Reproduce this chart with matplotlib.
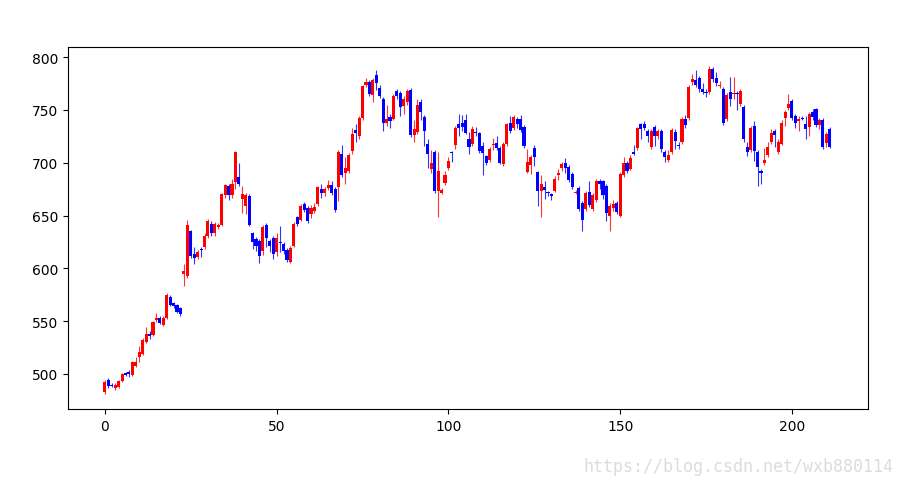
import matplotlib
matplotlib.use('Agg')
import matplotlib.pyplot as plt
import numpy as np

# daily prices (red = up, blue = down)
opens = [483, 494, 490, 487, 488, 493, 501, 502, 499, 508, 516, 519, 530, 538, 537, 551, 553, 546, 553, 573,
         567, 565, 562, 595, 593, 635, 614, 611, 618, 620, 631, 642, 633, 639, 641, 669, 678, 669, 682, 686,
         666, 659, 668, 633, 628, 626, 616, 641, 626, 629, 615, 625, 623, 617, 606, 621, 649, 646, 661, 657,
         651, 654, 661, 675, 671, 676, 679, 675, 677, 708, 690, 692, 711, 731, 725, 742, 774, 776, 764, 783,
         771, 760, 738, 743, 741, 768, 766, 754, 757, 769, 726, 729, 757, 743, 718, 694, 710, 673, 671, 681,
         695, 710, 717, 737, 738, 740, 722, 718, 729, 728, 716, 706, 703, 717, 719, 714, 699, 718, 738, 733,
         741, 741, 734, 691, 698, 714, 691, 673, 677, 672, 670, 673, 688, 695, 700, 696, 689, 671, 676, 662,
         656, 672, 656, 665, 683, 683, 678, 650, 657, 662, 650, 688, 700, 694, 710, 714, 737, 737, 730, 715,
         734, 725, 730, 710, 703, 710, 729, 717, 720, 741, 742, 776, 778, 780, 770, 767, 767, 789, 780, 773,
         770, 741, 767, 765, 766, 756, 753, 715, 712, 735, 710, 692, 700, 707, 720, 730, 710, 718, 742, 752,
         758, 744, 739, 742, 737, 734, 748, 751, 736, 740, 719, 732]
closes = [492, 489, 489, 490, 493, 500, 499, 500, 511, 511, 521, 532, 538, 536, 549, 553, 548, 553, 575, 565,
          564, 559, 557, 597, 641, 612, 610, 615, 617, 631, 645, 633, 642, 641, 670, 679, 669, 680, 710, 680,
          670, 669, 641, 625, 621, 612, 639, 629, 621, 614, 629, 624, 616, 608, 619, 642, 642, 659, 655, 645,
          657, 658, 677, 671, 675, 679, 671, 655, 710, 688, 695, 707, 727, 728, 742, 773, 776, 765, 778, 775,
          763, 738, 741, 739, 763, 763, 753, 760, 768, 726, 732, 755, 748, 730, 708, 700, 673, 692, 674, 688,
          702, 709, 733, 733, 734, 728, 715, 732, 728, 711, 709, 700, 713, 718, 714, 700, 718, 737, 730, 743,
          737, 731, 716, 701, 705, 705, 673, 680, 674, 671, 668, 685, 690, 699, 695, 684, 677, 672, 656, 646,
          671, 660, 669, 683, 680, 669, 652, 659, 661, 653, 689, 700, 692, 704, 708, 733, 732, 733, 725, 730,
          725, 730, 713, 705, 707, 731, 721, 716, 741, 736, 772, 779, 774, 770, 767, 766, 789, 779, 775, 774,
          738, 764, 760, 766, 765, 768, 722, 710, 733, 711, 696, 690, 703, 715, 728, 726, 720, 738, 748, 756,
          742, 738, 741, 741, 732, 746, 743, 736, 740, 715, 727, 715]
highs = [494, 496, 491, 491, 494, 501, 502, 504, 512, 516, 526, 534, 544, 541, 550, 558, 555, 555, 577, 575,
         568, 566, 563, 604, 646, 636, 620, 617, 620, 633, 647, 645, 644, 643, 671, 680, 680, 685, 711, 700,
         678, 671, 670, 634, 630, 628, 641, 643, 628, 631, 633, 640, 625, 619, 621, 644, 650, 661, 663, 659,
         660, 662, 678, 680, 677, 684, 683, 677, 712, 717, 705, 709, 733, 737, 744, 774, 780, 778, 780, 788,
         774, 762, 755, 746, 765, 770, 768, 763, 770, 771, 740, 760, 760, 745, 722, 712, 712, 710, 676, 692,
         705, 711, 735, 746, 745, 746, 729, 735, 734, 729, 720, 707, 715, 723, 725, 716, 720, 738, 744, 745,
         743, 745, 736, 713, 707, 717, 692, 688, 683, 673, 671, 687, 694, 701, 704, 698, 691, 674, 678, 664,
         673, 683, 671, 685, 685, 684, 680, 662, 665, 664, 691, 705, 702, 707, 717, 734, 738, 739, 732, 732,
         736, 732, 732, 712, 712, 733, 732, 720, 743, 745, 774, 784, 788, 782, 775, 770, 792, 791, 786, 777,
         772, 766, 781, 781, 768, 770, 755, 720, 735, 739, 712, 694, 714, 720, 732, 732, 722, 740, 750, 765,
         760, 746, 744, 744, 744, 748, 751, 752, 742, 742, 729, 734]
lows = [481, 487, 488, 485, 487, 492, 498, 497, 498, 507, 511, 518, 529, 533, 536, 549, 547, 545, 552, 564,
        562, 558, 555, 583, 591, 610, 604, 609, 611, 618, 629, 631, 631, 637, 640, 667, 665, 667, 675, 678,
        652, 651, 640, 618, 616, 605, 613, 620, 615, 609, 612, 615, 614, 606, 605, 620, 640, 645, 653, 643,
        648, 652, 659, 667, 668, 674, 669, 653, 664, 686, 680, 690, 708, 720, 722, 740, 772, 763, 757, 769,
        761, 730, 735, 733, 740, 760, 744, 746, 755, 724, 720, 727, 740, 716, 695, 690, 671, 649, 670, 679,
        693, 701, 713, 725, 730, 727, 708, 716, 725, 709, 688, 698, 701, 712, 712, 699, 697, 716, 728, 731,
        733, 729, 714, 690, 689, 697, 659, 649, 666, 668, 665, 672, 684, 692, 690, 682, 675, 670, 654, 635,
        654, 658, 654, 663, 675, 666, 645, 635, 654, 651, 649, 686, 690, 693, 707, 712, 722, 731, 720, 713,
        716, 722, 710, 701, 701, 708, 713, 713, 718, 733, 740, 774, 772, 767, 765, 762, 765, 776, 773, 771,
        736, 739, 754, 760, 750, 754, 720, 706, 710, 702, 678, 680, 698, 705, 718, 715, 708, 717, 735, 750,
        740, 733, 730, 740, 722, 725, 740, 734, 732, 713, 715, 714]

opens = np.array(opens)
closes = np.array(closes)
highs = np.array(highs)
lows = np.array(lows)
x = np.arange(len(opens))
colors = np.where(closes >= opens, 'r', 'b')

fig = plt.figure(figsize=(9.04, 4.85), dpi=100)
ax = fig.add_axes([0.075, 0.155, 0.885, 0.746])

# wicks first, bodies on top
ax.vlines(x, lows, highs, colors=colors, linewidth=0.8, alpha=0.8)
ax.bar(x, np.abs(closes - opens), width=0.9, bottom=np.minimum(opens, closes),
       color=colors, linewidth=0)

ax.set_xlim(-10.8, 222.1)
ax.set_ylim(467, 809.5)
ax.set_xticks([0, 50, 100, 150, 200])
ax.set_yticks([500, 550, 600, 650, 700, 750, 800])

fig.text(0.988, 0.018, 'https://blog.csdn.net/wxb880114', ha='right', va='bottom',
         color='#dcdcdc', fontsize=12, family='DejaVu Sans Mono')

plt.savefig('out.png', dpi=100)
